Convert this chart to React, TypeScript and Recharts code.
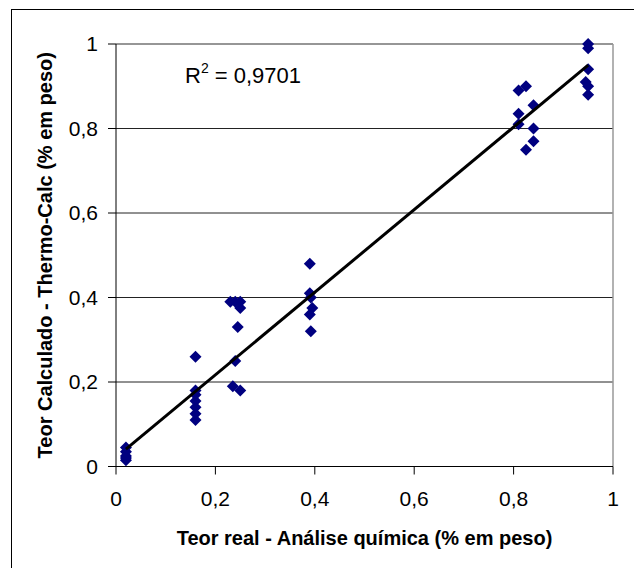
import React from 'react';
import { ScatterChart, Scatter, XAxis, YAxis, CartesianGrid, ReferenceLine, Label } from 'recharts';

// teor real (análise química) x teor calculado (Thermo-Calc), % em peso
const teorReal = [
  0.02, 0.02, 0.02, 0.02, 0.02,
  0.16, 0.16, 0.16, 0.16, 0.16, 0.16, 0.16,
  0.23, 0.24, 0.25, 0.25, 0.245, 0.24, 0.235, 0.25,
  0.39, 0.39, 0.392, 0.395, 0.39, 0.392,
  0.81, 0.825, 0.84, 0.81, 0.81, 0.84, 0.84, 0.825,
  0.95, 0.95, 0.95, 0.945, 0.95, 0.95,
];
const teorCalculado = [
  0.045, 0.035, 0.025, 0.02, 0.015,
  0.26, 0.18, 0.17, 0.155, 0.14, 0.125, 0.11,
  0.39, 0.39, 0.39, 0.375, 0.33, 0.25, 0.19, 0.18,
  0.48, 0.41, 0.4, 0.375, 0.36, 0.32,
  0.89, 0.9, 0.855, 0.835, 0.81, 0.8, 0.77, 0.75,
  1.0, 0.99, 0.94, 0.91, 0.9, 0.88,
];

// linha de tendência (extremos)
const trendX = [0.02, 0.95];
const trendY = [0.041, 0.95];

const ticks = [0, 0.2, 0.4, 0.6, 0.8, 1];
const r2Label = '0,9701';

const points = teorReal.map((x, i) => ({ x, y: teorCalculado[i] }));
const trend = trendX.map((x, i) => ({ x, y: trendY[i] }));

const fmt = (v: number) => String(v).replace('.', ',');

const Diamond = (props: any) => {
  const { cx, cy } = props;
  const s = 6;
  return <polygon points={`${cx},${cy - s} ${cx + s},${cy} ${cx},${cy + s} ${cx - s},${cy}`} fill="#000080" />;
};

const NoDot = () => <g />;

export default function App() {
  const font = '"Liberation Sans", Arial, sans-serif';
  return (
    <div style={{ position: 'fixed', left: 0, top: 0, width: 634, height: 568, background: '#fff', fontFamily: font }}>
      <div style={{ position: 'absolute', left: 11, top: 9, width: 623, height: 559, borderLeft: '1px solid #000', borderTop: '1px solid #000' }} />
      <ScatterChart width={634} height={568} margin={{ top: 44, right: 21, left: 0, bottom: 0 }} style={{ position: 'absolute', left: 0, top: 0 }}>
        <CartesianGrid vertical={false} stroke="#222" />
        <XAxis
          type="number"
          dataKey="x"
          domain={[0, 1]}
          ticks={ticks}
          tickFormatter={fmt}
          height={101.5}
          tickSize={8}
          tickMargin={17}
          axisLine={{ stroke: '#000' }}
          tickLine={{ stroke: '#000' }}
          tick={{ fill: '#000', fontSize: 21, fontFamily: font }}
        >
          <Label
            value="Teor real - Análise química (% em peso)"
            position="insideBottom"
            offset={23}
            style={{ fontSize: 20, fontWeight: 'bold', fill: '#000', fontFamily: font }}
          />
        </XAxis>
        <YAxis
          type="number"
          dataKey="y"
          domain={[0, 1]}
          ticks={ticks}
          tickFormatter={fmt}
          width={116}
          tickSize={8}
          tickMargin={10}
          axisLine={{ stroke: '#000' }}
          tickLine={{ stroke: '#000' }}
          tick={{ fill: '#000', fontSize: 21, fontFamily: font }}
        >
          <Label
            content={(p: any) => {
              const vb = p.viewBox;
              const cy = vb.y + vb.height / 2;
              return (
                <text
                  x={52}
                  y={cy}
                  transform={`rotate(-90, 52, ${cy})`}
                  textAnchor="middle"
                  style={{ fontSize: 20, fontWeight: 'bold', fill: '#000', fontFamily: font }}
                >
                  Teor Calculado - Thermo-Calc (% em peso)
                </text>
              );
            }}
          />
        </YAxis>
        <ReferenceLine y={1} stroke="#999" strokeWidth={1.5} />
        <ReferenceLine x={1} stroke="#999" strokeWidth={1.5} />
        <Scatter data={points} shape={Diamond} isAnimationActive={false} />
        <Scatter data={trend} shape={NoDot} line={{ stroke: '#000', strokeWidth: 3 }} isAnimationActive={false} />
        <text x={185} y={83} style={{ fontSize: 22, fill: '#000', fontFamily: font }}>
          R<tspan dy={-10} fontSize={14}>2</tspan>
          <tspan dy={10}>{` = ${r2Label}`}</tspan>
        </text>
      </ScatterChart>
    </div>
  );
}
